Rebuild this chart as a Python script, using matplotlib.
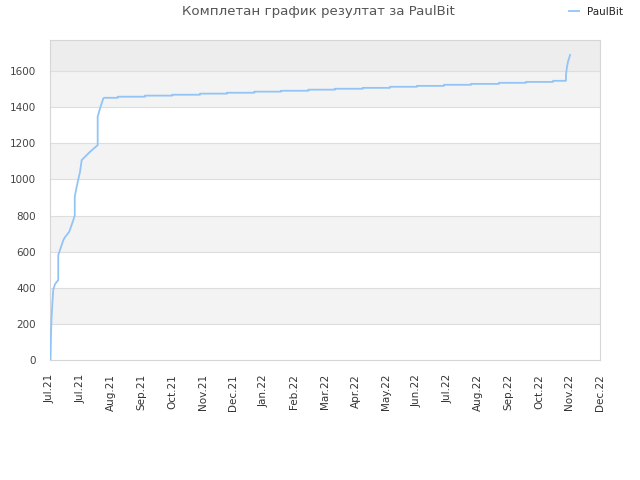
import matplotlib
matplotlib.use("Agg")
import matplotlib.pyplot as plt
import matplotlib.dates as mdates
import numpy as np
import pandas as pd

title = "Комплетан график резултат за PaulBit"
series_name = "PaulBit"
start_date = "2021-07-01"

# days since start_date, cumulative result
days = [0.5, 1.0, 1.5, 2.5, 3.2, 4.9, 8.1, 8.1, 9.8, 13.1, 14.7, 18.9, 22.9, 24.3, 24.3,
        26.2, 29.5, 31.1, 39.3, 46.8, 46.8, 49.1, 52.3, 53.0,
        66.5, 66.5, 93.3, 93.3, 120.1, 120.1, 147.3, 147.3, 173.8, 173.8,
        200.6, 200.6, 226.8, 226.8, 253.6, 253.6, 279.8, 279.8, 307.0, 307.0,
        333.8, 333.8, 360.3, 360.3, 386.8, 386.8, 413.4, 413.4, 440.8, 440.8,
        467.3, 467.3, 493.9, 493.9, 506.6, 506.6, 507.6, 508.6, 510.6]
values = [0, 150, 230, 330, 388, 420, 443, 581, 609, 664, 680, 710, 775, 800, 904,
          960, 1043, 1107, 1153, 1190, 1347, 1393, 1448, 1452,
          1452, 1458, 1458, 1464, 1464, 1469, 1469, 1475, 1475, 1480,
          1480, 1486, 1486, 1491, 1491, 1497, 1497, 1502, 1502, 1507,
          1507, 1513, 1513, 1518, 1518, 1524, 1524, 1529, 1529, 1535,
          1535, 1540, 1540, 1546, 1546, 1578, 1624, 1652, 1689]

tick_step_days = 30
n_ticks = 19
y_ticks = [0, 200, 400, 600, 800, 1000, 1200, 1400, 1600]
y_max = 1772

t0 = pd.Timestamp(start_date)
x = [t0 + pd.Timedelta(days=d) for d in days]
tick_dates = [t0 + pd.Timedelta(days=tick_step_days * i) for i in range(n_ticks)]

fig = plt.figure(figsize=(6.4, 4.8), dpi=100)
ax = fig.add_axes([50/640, 120/480, 550/640, 320/480])

# background bands
for i, lo in enumerate(y_ticks):
    hi = lo + 200 if lo < 1600 else y_max
    if lo >= 1600:
        col = "#ededed"
    elif i % 2 == 1:
        col = "#f3f3f3"
    else:
        col = "#ffffff"
    ax.axhspan(lo, hi, color=col, zorder=0, lw=0)
for yv in y_ticks[1:]:
    ax.axhline(yv, color="#dedede", lw=0.8, zorder=1)

ax.plot(x, values, color="#92c4f5", lw=1.3, zorder=3, label=series_name)

ax.set_xlim(t0, t0 + pd.Timedelta(days=tick_step_days * (n_ticks - 1)))
ax.set_ylim(0, y_max)
ax.set_yticks(y_ticks)
ax.set_xticks(tick_dates)
ax.xaxis.set_major_formatter(mdates.DateFormatter("%b.%y"))
ax.tick_params(axis="x", rotation=90, labelsize=7.5, colors="#444444", length=0, pad=10)
ax.tick_params(axis="y", labelsize=7.5, colors="#444444", length=0, pad=10)
for lab in ax.get_xticklabels():
    lab.set_color("#333333")
for s in ax.spines.values():
    s.set_color("#d6d6d6")
    s.set_linewidth(0.8)

fig.text(318/640, 1 - 12/480, title, ha="center", va="center", fontsize=9.6, color="#555555")
leg = fig.legend(loc="center", bbox_to_anchor=(596/640, 1 - 12/480), frameon=False,
                 fontsize=7.5, handlelength=0.9, handletextpad=0.8)
for t in leg.get_texts():
    t.set_color("#222222")

fig.savefig("out.png", dpi=100)
